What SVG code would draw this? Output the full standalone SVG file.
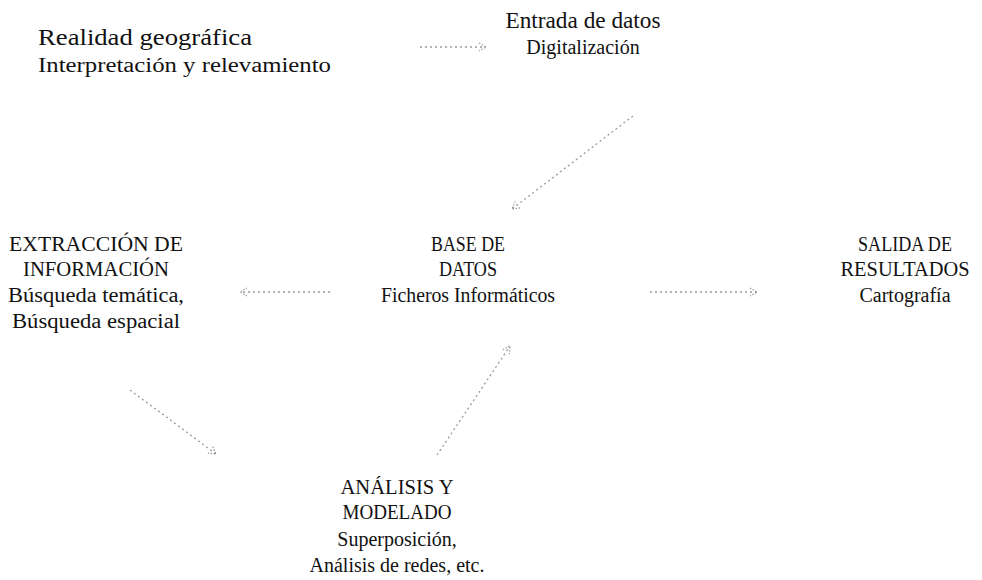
<svg xmlns="http://www.w3.org/2000/svg" width="982" height="580" viewBox="0 0 982 580">
<style>
.c{text-anchor:middle}
.con{stroke:#9a9a9a;stroke-width:1.3;stroke-dasharray:2 3;fill:none}
</style>
<defs>
<marker id="ah" markerWidth="10" markerHeight="10" refX="8" refY="5" orient="auto" markerUnits="userSpaceOnUse">
<path d="M1,1 L8,5 L1,9" fill="none" stroke="#9a9a9a" stroke-width="1.2" stroke-dasharray="1.5 1.5"/>
</marker>
</defs>
<rect width="982" height="580" fill="#fff"/>
<g font-family="Liberation Serif, Times New Roman, DejaVu Serif, serif" fill="#111" font-size="20">
<g id="realidad">
<text x="38" y="45" font-size="24" textLength="214" lengthAdjust="spacingAndGlyphs">Realidad geográfica</text>
<text x="38" y="72" textLength="293" lengthAdjust="spacingAndGlyphs">Interpretación y relevamiento</text>
</g>
<g id="entrada">
<text class="c" x="583" y="28" font-size="24" textLength="155" lengthAdjust="spacingAndGlyphs">Entrada de datos</text>
<text class="c" x="583" y="54">Digitalización</text>
</g>
<g id="extraccion">
<text class="c" x="96" y="251" textLength="174" lengthAdjust="spacingAndGlyphs">EXTRACCIÓN DE</text>
<text class="c" x="96" y="276" textLength="146" lengthAdjust="spacingAndGlyphs">INFORMACIÓN</text>
<text class="c" x="96" y="302" textLength="176" lengthAdjust="spacingAndGlyphs">Búsqueda temática,</text>
<text class="c" x="96" y="328" textLength="168" lengthAdjust="spacingAndGlyphs">Búsqueda espacial</text>
</g>
<g id="base">
<text class="c" x="468" y="251" textLength="74" lengthAdjust="spacingAndGlyphs">BASE DE</text>
<text class="c" x="468" y="276" textLength="58" lengthAdjust="spacingAndGlyphs">DATOS</text>
<text class="c" x="468" y="302" textLength="174" lengthAdjust="spacingAndGlyphs">Ficheros Informáticos</text>
</g>
<g id="salida">
<text class="c" x="905" y="251" textLength="94" lengthAdjust="spacingAndGlyphs">SALIDA DE</text>
<text class="c" x="905" y="276" textLength="129" lengthAdjust="spacingAndGlyphs">RESULTADOS</text>
<text class="c" x="905" y="302">Cartografía</text>
</g>
<g id="analisis">
<text class="c" x="397" y="494" textLength="113" lengthAdjust="spacingAndGlyphs">ANÁLISIS Y</text>
<text class="c" x="397" y="519" textLength="109" lengthAdjust="spacingAndGlyphs">MODELADO</text>
<text class="c" x="397" y="546">Superposición,</text>
<text class="c" x="397" y="572">Análisis de redes, etc.</text>
</g>
</g>
<g id="connectors">
<line class="con" x1="420" y1="47" x2="486" y2="47" marker-end="url(#ah)"/>
<line class="con" x1="633" y1="116" x2="512" y2="209" marker-end="url(#ah)"/>
<line class="con" x1="330" y1="292" x2="240" y2="292" marker-end="url(#ah)"/>
<line class="con" x1="650" y1="292" x2="757" y2="292" marker-end="url(#ah)"/>
<line class="con" x1="130" y1="390" x2="216" y2="454" marker-end="url(#ah)"/>
<line class="con" x1="437" y1="455" x2="510" y2="346" marker-end="url(#ah)"/>
</g>
</svg>
